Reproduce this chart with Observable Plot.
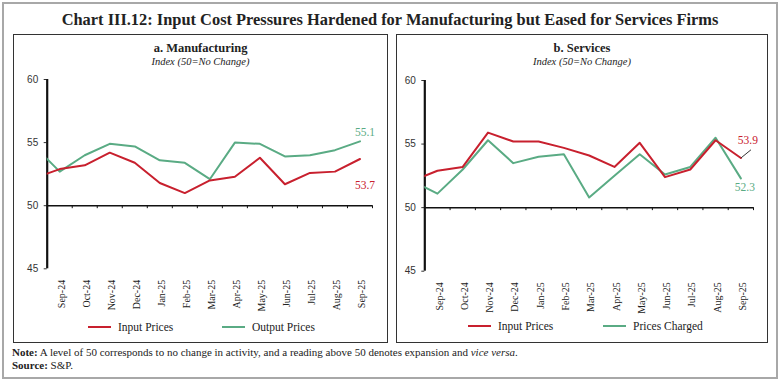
<!DOCTYPE html>
<html><head><meta charset="utf-8">
<script src="https://cdn.jsdelivr.net/npm/d3@7"></script>
<script src="https://cdn.jsdelivr.net/npm/@observablehq/plot@0.6"></script>
<style>
body{margin:0;background:#fff;}
#wrap{position:relative;width:780px;height:380px;overflow:hidden;font-family:"Liberation Serif",serif;color:#222;}
.abs{position:absolute;}
.frame{left:2px;top:2px;width:772px;height:373px;border:2px solid #a8a8a8;}
.box{border:1.3px solid #333;}
.title{left:0;width:780px;top:10px;text-align:center;font-weight:bold;font-size:16.4px;}
.ptitle{text-align:center;font-weight:bold;font-size:12.5px;}
.psub{text-align:center;font-style:italic;font-size:10.5px;}
.leg{font-size:11.5px;white-space:nowrap;line-height:14px;}
.sw{display:inline-block;width:23px;height:0;border-top:2px solid;vertical-align:middle;margin-right:7px;position:relative;top:-1px;}
.note{font-size:11px;left:12px;white-space:nowrap;}
</style></head><body><div id="wrap">
<div class="abs frame"></div>
<div class="abs title" id="title"></div>
<div class="abs box" style="left:13px;top:34px;width:373px;height:307px;"></div>
<div class="abs box" style="left:396px;top:34px;width:370px;height:307px;"></div>
<div class="abs ptitle" id="t1" style="left:13px;width:375px;top:41px;"></div>
<div class="abs psub" id="s1" style="left:13px;width:375px;top:56px;"></div>
<div class="abs ptitle" id="t2" style="left:396px;width:372px;top:41px;"></div>
<div class="abs psub" id="s2" style="left:396px;width:372px;top:56px;"></div>
<div class="abs" id="p1" style="left:14px;top:70px;"></div>
<div class="abs" id="p2" style="left:397px;top:70px;"></div>
<div class="abs leg" id="l1a" style="left:88px;top:320px;"></div>
<div class="abs leg" id="l1b" style="left:222px;top:320px;"></div>
<div class="abs leg" id="l2a" style="left:468px;top:319px;"></div>
<div class="abs leg" id="l2b" style="left:603px;top:319px;"></div>
<div class="abs note" style="top:346px;"><b>Note:</b> A level of 50 corresponds to no change in activity, and a reading above 50 denotes expansion and <i>vice versa</i>.</div>
<div class="abs note" style="top:359px;"><b>Source:</b> S&amp;P.</div>
</div>
<script>
const chartTitle = "Chart III.12: Input Cost Pressures Hardened for Manufacturing but Eased for Services Firms";
const panelTitles = ["a. Manufacturing", "b. Services"];
const panelSub = "Index (50=No Change)";
const months = ["Aug-24","Sep-24","Oct-24","Nov-24","Dec-24","Jan-25","Feb-25","Mar-25","Apr-25","May-25","Jun-25","Jul-25","Aug-25","Sep-25"];
const mfgInput   = [52.2, 52.9, 53.2, 54.2, 53.4, 51.8, 51.0, 52.0, 52.3, 53.8, 51.7, 52.6, 52.7, 53.7];
const mfgOutput  = [54.7, 52.7, 54.0, 54.9, 54.7, 53.6, 53.4, 52.1, 55.0, 54.9, 53.9, 54.0, 54.4, 55.1];
const svcInput   = [52.1, 52.9, 53.2, 55.9, 55.2, 55.2, 54.7, 54.1, 53.2, 55.1, 52.4, 53.0, 55.3, 53.9];
const svcCharged = [52.1, 51.1, 53.0, 55.3, 53.5, 54.0, 54.2, 50.8, 52.5, 54.2, 52.6, 53.2, 55.5, 52.3];
const yTicks = [45, 50, 55, 60];
const seriesNames = [["Input Prices", "Output Prices"], ["Input Prices", "Prices Charged"]];
const RED = "#c8202e", GREEN = "#5aab84";

document.getElementById("title").textContent = chartTitle;
document.getElementById("t1").textContent = panelTitles[0];
document.getElementById("t2").textContent = panelTitles[1];
document.getElementById("s1").textContent = panelSub;
document.getElementById("s2").textContent = panelSub;
function legend(id, color, name){
  const el = document.getElementById(id);
  el.innerHTML = `<span class="sw" style="border-color:${color}"></span>${name}`;
}
legend("l1a", RED, seriesNames[0][0]); legend("l1b", GREEN, seriesNames[0][1]);
legend("l2a", RED, seriesNames[1][0]); legend("l2b", GREEN, seriesNames[1][1]);

function panel(aVals, bVals, opts, labelMarks){
  const rows = months.map((m, k) => ({m, i: k - 1, a: aVals[k], b: bVals[k]}));
  const shown = rows.filter(d => d.i >= 0);
  const last = rows[rows.length - 1];
  const bounds = d3.range(1, shown.length + 1).map(k => k - 0.5);
  return Plot.plot({
    ...opts,
    x: {domain: [-0.5, shown.length - 0.5], axis: null},
    y: {domain: [45, 60], ticks: yTicks, tickSize: 3, tickPadding: 6, label: null, tickFormat: d => String(d)},
    style: {fontFamily: "Liberation Sans, sans-serif", fontSize: "10px", color: "#333", background: "transparent", overflow: "visible"},
    marks: [
      Plot.ruleY([50], {stroke: "#111", strokeWidth: 1.5}),
      Plot.ruleX(bounds, {y1: 50, y2: 50, insetBottom: -3, stroke: "#111", strokeWidth: 1}),
      Plot.ruleX([-0.5], {y1: 45, y2: 60, stroke: "#111", strokeWidth: 2.2}),
      Plot.line(rows, {x: "i", y: "b", stroke: GREEN, strokeWidth: 2, clip: true}),
      Plot.line(rows, {x: "i", y: "a", stroke: RED, strokeWidth: 2, clip: true}),
      Plot.text(shown, {x: "i", y: 45, text: "m", rotate: -90, textAnchor: "end", dy: 11, dx: 2, fontFamily: "Liberation Serif, serif", fontSize: 10, fill: "#222"}),
      ...labelMarks(last)
    ]
  });
}

const p1 = panel(mfgInput, mfgOutput,
  {width: 372, height: 240, marginTop: 9, marginBottom: 41.7, marginLeft: 32.7, marginRight: 14},
  last => [
    Plot.text([last], {x: "i", y: "b", text: d => d.b.toFixed(1), dx: 5, dy: -9, fill: GREEN, fontFamily: "Liberation Serif, serif", fontSize: 11.5}),
    Plot.text([last], {x: "i", y: "a", text: d => d.a.toFixed(1), dx: 5, dy: 26, fill: RED, fontFamily: "Liberation Serif, serif", fontSize: 11.5})
  ]);
document.getElementById("p1").appendChild(p1);

const p2 = panel(svcInput, svcCharged,
  {width: 368, height: 245, marginTop: 10, marginBottom: 44.3, marginLeft: 27.3, marginRight: 12},
  last => [
    Plot.link([last], {x1: "i", y1: "a", x2: d => d.i + 0.4, y2: d => d.a + 0.65, stroke: "#333", strokeWidth: 1}),
    Plot.text([last], {x: "i", y: "a", text: d => d.a.toFixed(1), dx: 7, dy: -18, fill: RED, fontFamily: "Liberation Serif, serif", fontSize: 11.5}),
    Plot.text([last], {x: "i", y: "b", text: d => d.b.toFixed(1), dx: 4, dy: 9, fill: GREEN, fontFamily: "Liberation Serif, serif", fontSize: 11.5})
  ]);
document.getElementById("p2").appendChild(p2);
</script>
</body></html>
